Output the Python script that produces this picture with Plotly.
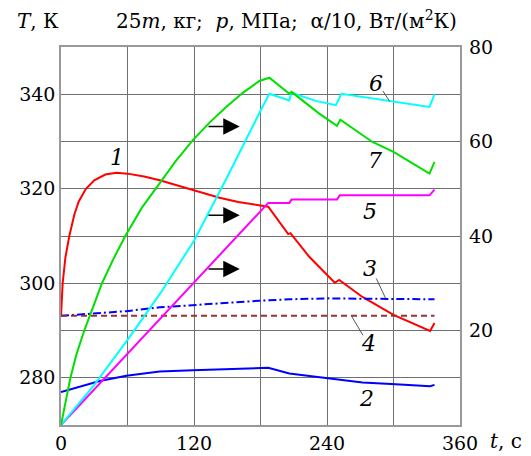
import plotly.graph_objects as go

# ---- data ----
t_red = [0, 1.5, 4, 7.5, 12, 16, 22.5, 30, 40, 50, 60, 75, 89, 107, 119, 143, 160, 180, 187, 205, 207, 224, 247, 251, 272, 300, 333, 337]
T_red = [293.0, 300, 305.5, 310, 314.5, 317.3, 320, 321.8, 323, 323.4, 323.2, 322.6, 321.8, 320.6, 319.8, 318.1, 317.2, 316.5, 316.2, 310.4, 310.6, 305.6, 300.1, 300.7, 297.1, 293.3, 289.9, 291.6]

t_blue = [0, 35, 59, 89, 119, 161, 187, 206, 242, 272, 302, 333, 337]
T_blue = [277.0, 279.3, 280.4, 281.3, 281.6, 282.0, 282.1, 280.9, 279.9, 279.0, 278.6, 278.2, 278.5]

t_dd = [0, 35, 59, 89, 119, 179, 206, 242, 287, 337]
T_dd = [293.1, 293.6, 294.1, 294.9, 295.4, 296.3, 296.6, 296.8, 296.7, 296.6]

t_br = [0, 337]
T_br = [293.1, 293.1]

t_mag = [0, 187, 206, 208, 249, 251.5, 332.5, 337]
v_mag = [0, 47.0, 47.0, 47.7, 47.7, 48.6, 48.6, 49.8]

t_cyan = [0, 30, 60, 90, 120, 150, 180, 188, 206, 208, 230, 248, 253, 294, 332.5, 337]
v_cyan = [0, 8.5, 18, 28, 39, 52.5, 66.5, 70.1, 68.7, 70.3, 68.6, 67.7, 70.1, 68.6, 67.3, 70.0]

t_green = [0, 4, 8.5, 14, 21, 29, 37, 47, 58, 73, 89, 104, 119, 134, 149, 164, 179, 188, 206, 208, 233, 249, 252, 281, 300, 332.5, 337]
v_green = [0, 5, 10, 15, 20, 25, 30, 35, 40, 46, 51.2, 56, 60.3, 64, 67.3, 70.3, 72.8, 73.5, 70.1, 70.5, 65.9, 63.3, 64.6, 59.9, 57.8, 53.2, 55.7]

x_ticks = [0, 120, 240, 360]
yl_ticks = [280, 300, 320, 340]
yr_ticks = [20, 40, 60, 80]

labels = [("1", 50.2, 326.7), ("6", 284, 342.3), ("7", 283, 326), ("5", 278.5, 315.1),
          ("3", 279, 303.2), ("4", 277, 287.3), ("2", 276, 275.6)]
arrows_T = [333.2, 314.4, 303.0]

FONT = "DejaVu Serif"
GRID = "#6f6f6f"

fig = go.Figure()
lw = 2
fig.add_trace(go.Scatter(x=t_red, y=T_red, mode="lines", line=dict(color="#ff0000", width=lw)))
fig.add_trace(go.Scatter(x=t_blue, y=T_blue, mode="lines", line=dict(color="#0000ff", width=lw)))
fig.add_trace(go.Scatter(x=t_dd, y=T_dd, mode="lines", line=dict(color="#0000ff", width=lw, dash="8px,3px,2px,3px")))
fig.add_trace(go.Scatter(x=t_br, y=T_br, mode="lines", line=dict(color="#993333", width=lw, dash="6px,4px")))
fig.add_trace(go.Scatter(x=t_mag, y=v_mag, mode="lines", yaxis="y2", line=dict(color="#ff00ff", width=lw)))
fig.add_trace(go.Scatter(x=t_cyan, y=v_cyan, mode="lines", yaxis="y2", line=dict(color="#00ffff", width=lw)))
fig.add_trace(go.Scatter(x=t_green, y=v_green, mode="lines", yaxis="y2", line=dict(color="#00e000", width=lw)))

ann = []
for txt, x, y in labels:
    ann.append(dict(x=x, y=y, xref="x", yref="y", text="<i>%s</i>" % txt, showarrow=False,
                    font=dict(family=FONT, size=22, color="black")))
for T in arrows_T:
    ann.append(dict(x=161.3, y=T, ax=131.3, ay=T, xref="x", yref="y", axref="x", ayref="y",
                    text=" ", showarrow=True, arrowhead=2, arrowsize=2.2, arrowwidth=1.5,
                    arrowcolor="black", font=dict(size=2)))
sp = "\u00a0"
ann.append(dict(x=0.565, y=1.0, xref="paper", yref="paper", xanchor="center", yanchor="bottom", yshift=12,
                text="25<i>m</i>, кг;" + sp * 2 + "<i>p</i>, МПа;" + sp * 2 + "α/10, Вт/(м<sup>2</sup>К)",
                showarrow=False, font=dict(family=FONT, size=20, color="black")))
ann.append(dict(x=-0.115, y=1.0, xref="paper", yref="paper", xanchor="left", yanchor="bottom", yshift=12,
                text="<i>T</i>, К", showarrow=False, font=dict(family=FONT, size=20, color="black")))
ann.append(dict(x=1.07, y=0, xref="paper", yref="paper", xanchor="left", yanchor="top", yshift=-2,
                text="<i>t</i>, с", showarrow=False, font=dict(family=FONT, size=20, color="black")))

shapes = [
    dict(type="line", xref="x", yref="y", x0=290.4, y0=340.7, x1=296.5, y1=338.5, line=dict(color="#555", width=1)),
    dict(type="line", xref="x", yref="y", x0=284.5, y0=301.0, x1=292.9, y1=296.8, line=dict(color="#555", width=1)),
    dict(type="line", xref="x", yref="y", x0=272.4, y0=289.0, x1=262, y1=293.1, line=dict(color="#555", width=1)),
]

fig.update_layout(
    width=531, height=456,
    margin=dict(l=61, r=71, t=47, b=31, autoexpand=False),
    paper_bgcolor="white", plot_bgcolor="white",
    showlegend=False,
    font=dict(family=FONT, size=19, color="black"),
    annotations=ann, shapes=shapes,
    xaxis=dict(range=[0, 360], tickvals=x_ticks, ticktext=[str(v) for v in x_ticks],
               showgrid=True, gridcolor=GRID, gridwidth=1, zeroline=False, automargin=False,
               showline=True, linecolor="#999999", linewidth=1.5, mirror=True, ticks="",
               minor=dict(dtick=60, showgrid=True, gridcolor=GRID, gridwidth=1),
               tickfont=dict(family=FONT, size=19)),
    yaxis=dict(range=[270, 350], tickvals=yl_ticks, ticktext=[str(v) for v in yl_ticks],
               showgrid=True, gridcolor=GRID, gridwidth=1, zeroline=False, automargin=False,
               showline=True, linecolor="#999999", linewidth=1.5, mirror=True, ticks="",
               minor=dict(dtick=10, showgrid=True, gridcolor=GRID, gridwidth=1),
               tickfont=dict(family=FONT, size=19)),
    yaxis2=dict(range=[0, 80], overlaying="y", side="right", tickvals=yr_ticks, automargin=False,
                ticktext=[str(v) for v in yr_ticks], showgrid=False, zeroline=False,
                showline=False, ticks="", ticklabelstandoff=8, tickfont=dict(family=FONT, size=19)),
)

fig.write_html("out.html")
